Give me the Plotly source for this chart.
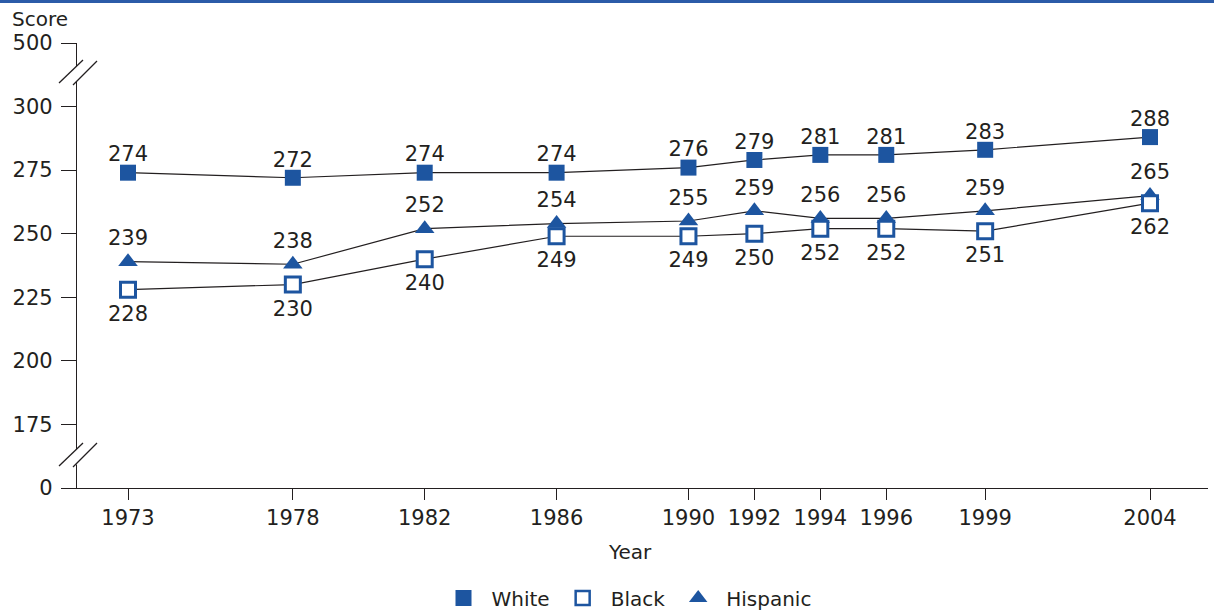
import plotly.graph_objects as go

# ---- data ----
years = [1973, 1978, 1982, 1986, 1990, 1992, 1994, 1996, 1999, 2004]
white = [274, 272, 274, 274, 276, 279, 281, 281, 283, 288]
black = [228, 230, 240, 249, 249, 250, 252, 252, 251, 262]
hispanic = [239, 238, 252, 254, 255, 259, 256, 256, 259, 265]
y_tick_scores = [0, 175, 200, 225, 250, 275, 300, 500]
series_names = ["White", "Black", "Hispanic"]

BLUE = "#1d55a0"
TXT = "#231f20"
FONT = "DejaVu Sans"


# broken axis: 0 sits one step below 175, 500 one step above 300
def axis_pos(v):
    if v <= 0:
        return 150
    if v >= 500:
        return 325
    return v


W, H = 1214, 611
L, R, T, B = 77, 6, 43, 123
PW, PH = W - L - R, H - T - B


def px(x):
    return (x - L) / PW


def py(y):
    return (H - B - y) / PH


fig = go.Figure()

text_font = dict(family=FONT, size=21, color=TXT)

series = {
    "White": dict(y=white, marker=dict(symbol="square", size=16, color=BLUE, line=dict(width=0)),
                  textpos="top center", label_gap=8),
    "Hispanic": dict(y=hispanic, marker=dict(symbol="triangle-up", size=17, color=BLUE, line=dict(width=0)),
                     textpos="top center", label_gap=16),
    "Black": dict(y=black, marker=dict(symbol="square", size=15, color="white", line=dict(width=3, color=BLUE)),
                  textpos="bottom center", label_gap=23),
}

# lines + markers (draw order: White, Hispanic, Black)
for nm in ["White", "Hispanic", "Black"]:
    s = series[nm]
    fig.add_trace(go.Scatter(
        x=years, y=s["y"], mode="lines+markers", name=nm,
        line=dict(color=TXT, width=1.2), marker=s["marker"],
        showlegend=False, cliponaxis=False, hoverinfo="x+y+name"))

# value labels (invisible markers only set the label offset)
for nm in ["White", "Hispanic", "Black"]:
    s = series[nm]
    fig.add_trace(go.Scatter(
        x=years, y=s["y"], mode="markers+text", name=nm,
        text=[str(v) for v in s["y"]], textposition=s["textpos"], textfont=text_font,
        marker=dict(size=s["label_gap"], opacity=0),
        showlegend=False, cliponaxis=False, hoverinfo="skip"))

# legend-only entries (markers only)
legend_markers = {
    "White": dict(symbol="square", size=16, color=BLUE, line=dict(width=0)),
    "Black": dict(symbol="square", size=14, color="white", line=dict(width=2.5, color=BLUE)),
    "Hispanic": dict(symbol="triangle-up", size=17, color=BLUE, line=dict(width=0)),
}
for nm in series_names:
    fig.add_trace(go.Scatter(x=[None], y=[None], mode="markers", name=nm,
                             marker=legend_markers[nm], showlegend=True))

shapes = []
# top blue rule
shapes.append(dict(type="line", xref="paper", yref="paper",
                   x0=px(0), x1=px(W), y0=py(1.5), y1=py(1.5),
                   line=dict(color="#2b5ba8", width=3)))
# y-axis breaks: white gap + two slashes
for (gy0, gy1, s1, s2) in [
    (66, 81.5, ((59, 83), (83, 60)), ((73, 85), (97, 61))),
    (449, 464.5, ((59, 466), (83, 443)), ((73, 467), (97, 443))),
]:
    shapes.append(dict(type="line", xref="paper", yref="paper", layer="above",
                       x0=px(L), x1=px(L), y0=py(gy0), y1=py(gy1),
                       line=dict(color="white", width=4)))
    for (a, b) in (s1, s2):
        shapes.append(dict(type="line", xref="paper", yref="paper", layer="above",
                           x0=px(a[0]), y0=py(a[1]), x1=px(b[0]), y1=py(b[1]),
                           line=dict(color=TXT, width=1.3)))

annotations = [
    dict(text="Score", xref="paper", yref="paper", x=px(10), y=py(19),
         xanchor="left", yanchor="middle", showarrow=False,
         font=dict(family=FONT, size=20, color=TXT)),
    dict(text="Year", xref="paper", yref="paper", x=px(630), y=py(552),
         xanchor="center", yanchor="middle", showarrow=False,
         font=dict(family=FONT, size=20, color=TXT)),
]

fig.update_layout(
    width=W, height=H,
    margin=dict(l=L, r=R, t=T, b=B, autoexpand=False),
    paper_bgcolor="white", plot_bgcolor="white",
    font=dict(family=FONT, size=21, color=TXT),
    shapes=shapes, annotations=annotations,
    legend=dict(orientation="h", x=px(626), xanchor="center",
                y=py(598), yanchor="middle",
                itemwidth=46,
                font=dict(family=FONT, size=20, color=TXT),
                itemclick=False, itemdoubleclick=False, tracegroupgap=0),
    xaxis=dict(range=[1971.453, 2005.759], tickmode="array", tickvals=years,
               ticktext=[str(y) for y in years],
               showgrid=False, zeroline=False, showline=True,
               linecolor=TXT, linewidth=1.3,
               ticks="outside", ticklen=11, tickwidth=1.3, tickcolor=TXT,
               tickfont=dict(family=FONT, size=21, color=TXT)),
    yaxis=dict(range=[150, 325], tickmode="array",
               tickvals=[axis_pos(v) for v in y_tick_scores],
               ticktext=[str(v) for v in y_tick_scores],
               showgrid=False, zeroline=False, showline=True,
               linecolor=TXT, linewidth=1.3, ticklabelstandoff=4,
               ticks="outside", ticklen=15, tickwidth=1.3, tickcolor=TXT,
               tickfont=dict(family=FONT, size=21, color=TXT)),
)

fig.write_html("out.html", config={"displayModeBar": False},
               post_script="document.body.style.margin='0px';")
